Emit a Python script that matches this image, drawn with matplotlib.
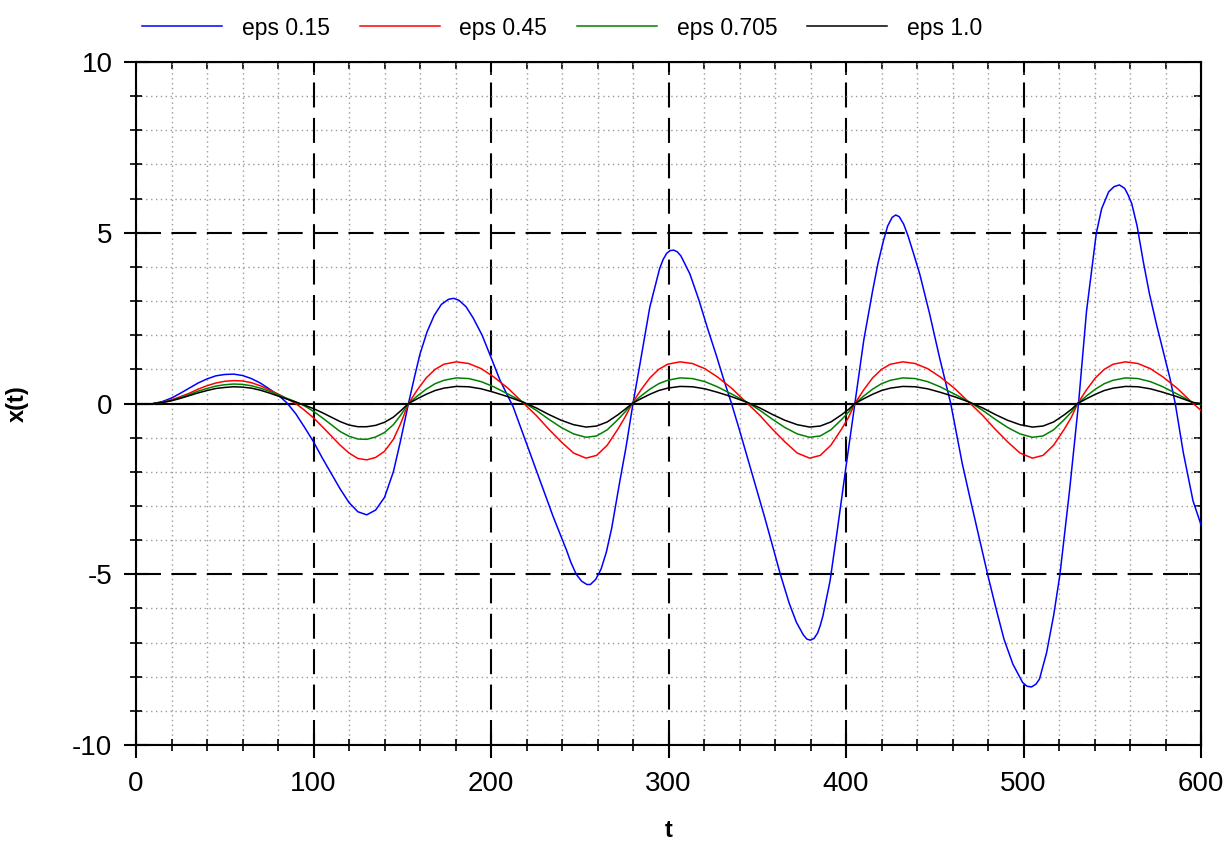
import matplotlib
matplotlib.use("Agg")
import matplotlib.pyplot as plt
from matplotlib.ticker import MultipleLocator

plt.rcParams['font.family'] = ['Liberation Sans', 'DejaVu Sans']
plt.rcParams['axes.unicode_minus'] = False

# ---- data ----
# common time axis for the three small curves
t_small = [10, 15, 20, 25, 30, 35, 40, 45, 50, 55, 60, 65, 70, 75, 80, 85, 90, 95,
           100, 105, 110, 115, 120, 125, 130, 135, 140, 145, 149, 153.5,
           158.5, 163.5, 168.5, 173.5, 180.5, 187.5, 194.5, 201.5, 209.5, 218.5,
           225.5, 232.5, 239.5, 246.5, 253.5, 259.5, 265.5, 271.5, 275.5, 279.5,
           284.5, 289.5, 294.5, 299.5, 306.5, 313.5, 320.5, 327.5, 335.5, 344.5,
           351.5, 358.5, 365.5, 372.5, 379.5, 385.5, 391.5, 397.5, 401.5, 405,
           410, 415, 420, 425, 432, 439, 446, 453, 461, 470,
           477, 484, 491, 498, 505, 511, 517, 523, 527, 530.5,
           535.5, 540.5, 545.5, 550.5, 557.5, 564.5, 571.5, 578.5, 586.5, 595.5, 600]

x_eps045 = [0, 0.04, 0.11, 0.20, 0.30, 0.42, 0.52, 0.60, 0.65, 0.67, 0.66, 0.61, 0.52, 0.40, 0.28, 0.14, 0.0, -0.20,
            -0.42, -0.68, -0.95, -1.22, -1.45, -1.61, -1.65, -1.58, -1.40, -1.05, -0.60, 0.0,
            0.40, 0.75, 1.00, 1.15, 1.22, 1.17, 1.02, 0.78, 0.45, 0.0,
            -0.35, -0.75, -1.12, -1.45, -1.60, -1.52, -1.22, -0.75, -0.40, 0.0,
            0.40, 0.75, 1.00, 1.15, 1.22, 1.17, 1.02, 0.78, 0.45, 0.0,
            -0.35, -0.75, -1.12, -1.45, -1.60, -1.52, -1.22, -0.75, -0.40, 0.0,
            0.40, 0.75, 1.00, 1.15, 1.22, 1.17, 1.02, 0.78, 0.45, 0.0,
            -0.35, -0.75, -1.12, -1.45, -1.60, -1.52, -1.22, -0.75, -0.40, 0.0,
            0.40, 0.75, 1.00, 1.15, 1.22, 1.17, 1.02, 0.78, 0.45, 0.0, -0.20]

x_eps0705 = [0, 0.03, 0.09, 0.17, 0.26, 0.36, 0.44, 0.51, 0.55, 0.57, 0.56, 0.52, 0.45, 0.36, 0.26, 0.15, 0.05, -0.07,
             -0.23, -0.42, -0.62, -0.82, -0.96, -1.04, -1.05, -0.98, -0.85, -0.62, -0.35, 0.0,
             0.22, 0.42, 0.58, 0.68, 0.75, 0.73, 0.64, 0.49, 0.28, 0.03,
             -0.20, -0.46, -0.70, -0.89, -0.99, -0.95, -0.77, -0.47, -0.25, 0.0,
             0.22, 0.42, 0.58, 0.68, 0.75, 0.73, 0.64, 0.49, 0.28, 0.03,
             -0.20, -0.46, -0.70, -0.89, -0.99, -0.95, -0.77, -0.47, -0.25, 0.0,
             0.22, 0.42, 0.58, 0.68, 0.75, 0.73, 0.64, 0.49, 0.28, 0.03,
             -0.20, -0.46, -0.70, -0.89, -0.99, -0.95, -0.77, -0.47, -0.25, 0.0,
             0.22, 0.42, 0.58, 0.68, 0.75, 0.73, 0.64, 0.49, 0.28, 0.03, -0.02]

x_eps10 = [0, 0.03, 0.08, 0.15, 0.23, 0.31, 0.38, 0.44, 0.47, 0.49, 0.48, 0.45, 0.39, 0.31, 0.22, 0.13, 0.04, -0.05,
           -0.15, -0.27, -0.40, -0.53, -0.63, -0.68, -0.68, -0.64, -0.55, -0.40, -0.22, 0.0,
           0.14, 0.27, 0.38, 0.45, 0.50, 0.49, 0.43, 0.33, 0.20, 0.03,
           -0.13, -0.32, -0.49, -0.62, -0.69, -0.66, -0.54, -0.33, -0.17, 0.0,
           0.14, 0.27, 0.38, 0.45, 0.50, 0.49, 0.43, 0.33, 0.20, 0.03,
           -0.13, -0.32, -0.49, -0.62, -0.69, -0.66, -0.54, -0.33, -0.17, 0.0,
           0.14, 0.27, 0.38, 0.45, 0.50, 0.49, 0.43, 0.33, 0.20, 0.03,
           -0.13, -0.32, -0.49, -0.62, -0.69, -0.66, -0.54, -0.33, -0.17, 0.0,
           0.14, 0.27, 0.38, 0.45, 0.50, 0.49, 0.43, 0.33, 0.20, 0.03, 0.0]

t_blue = [10, 15, 20, 25, 30, 35, 40, 45, 50, 55, 60, 65, 70, 75, 80, 85, 90, 95,
          100, 105, 110, 115, 120, 125, 130, 135, 140, 145, 149, 153.5,
          157, 160, 164, 168, 172, 176, 179, 182, 186, 190, 195, 200, 205, 212.5,
          220, 227.5, 235, 242.5, 245, 248, 251, 254, 256, 259, 262, 265, 268, 272.5, 276, 280,
          284, 289.5, 295, 297, 299, 301, 303, 305, 307, 312, 317, 322, 327, 331, 335.5,
          340, 344, 349, 354, 358, 363, 368, 372, 376, 378, 380, 382, 384, 385.5, 387, 391, 395, 400, 405,
          410, 415, 418, 421, 423.5, 426, 428, 430, 432.5, 435, 438, 441.5, 447, 452.5, 459,
          465.5, 470, 475, 480, 484.5, 489, 494, 499.5, 502, 504.5, 507, 509, 513, 517, 520.5, 526, 531,
          535.5, 541, 544, 548, 551, 554, 557, 559, 561, 564, 567.5, 571, 575, 582.5, 585.5, 590, 595.5, 600]

x_eps015 = [0, 0.06, 0.16, 0.30, 0.45, 0.60, 0.72, 0.81, 0.85, 0.86, 0.82, 0.73, 0.60, 0.43, 0.25, 0.02, -0.30, -0.70,
            -1.12, -1.60, -2.05, -2.50, -2.90, -3.17, -3.26, -3.12, -2.75, -2.00, -1.10, 0.0,
            0.80, 1.45, 2.10, 2.58, 2.90, 3.05, 3.08, 3.02, 2.83, 2.50, 2.00, 1.35, 0.69, -0.10,
            -1.17, -2.24, -3.31, -4.29, -4.65, -5.00, -5.20, -5.30, -5.30, -5.15, -4.85, -4.35, -3.65, -2.30, -1.30, 0.0,
            1.18, 2.83, 3.95, 4.22, 4.40, 4.48, 4.49, 4.44, 4.32, 3.80, 3.05, 2.20, 1.40, 0.72, 0.0,
            -0.78, -1.50, -2.40, -3.30, -4.05, -5.00, -5.85, -6.40, -6.78, -6.90, -6.93, -6.88, -6.72, -6.50, -6.22, -5.20, -3.75, -1.85, 0.0,
            1.85, 3.30, 4.10, 4.75, 5.20, 5.45, 5.52, 5.47, 5.25, 4.90, 4.40, 3.80, 2.65, 1.39, 0.0,
            -1.76, -2.80, -3.93, -5.05, -6.00, -6.90, -7.63, -8.17, -8.28, -8.30, -8.22, -8.07, -7.30, -6.20, -5.02, -2.52, 0.0,
            2.70, 4.98, 5.70, 6.20, 6.35, 6.40, 6.30, 6.10, 5.85, 5.20, 4.15, 3.20, 2.30, 0.74, 0.0, -1.43, -2.85, -3.55]

labels = ['eps 0.15', 'eps 0.45', 'eps 0.705', 'eps 1.0']
colors = ['#0000ff', '#ff0000', '#008000', '#000000']

# ---- figure ----
fig = plt.figure(figsize=(12.29, 8.43), dpi=100)
ax = fig.add_axes([136/1229, 1-745/843, (1201-136)/1229, (745-62)/843])

ax.set_xlim(0, 600)
ax.set_ylim(-10, 10)
ax.xaxis.set_major_locator(MultipleLocator(100))
ax.xaxis.set_minor_locator(MultipleLocator(20))
ax.yaxis.set_major_locator(MultipleLocator(5))
ax.yaxis.set_minor_locator(MultipleLocator(1))

ax.grid(which='minor', color='#9a9a9a', linestyle=(0, (1, 2.5)), linewidth=1.0, zorder=0)
ax.grid(which='major', color='black', linestyle=(0, (12, 5)), linewidth=1.5, zorder=0)
ax.axhline(0, color='black', linewidth=1.5, zorder=1)

ax.plot(t_blue, x_eps015, color=colors[0], lw=1.1, label=labels[0], zorder=3)
ax.plot(t_small, x_eps045, color=colors[1], lw=1.1, label=labels[1], zorder=3)
ax.plot(t_small, x_eps0705, color=colors[2], lw=1.1, label=labels[2], zorder=3)
ax.plot(t_small, x_eps10, color=colors[3], lw=1.1, label=labels[3], zorder=3)

for s in ax.spines.values():
    s.set_linewidth(1.5)
ax.tick_params(which='major', direction='inout', length=18, width=1.5, labelsize=20, pad=8)
ax.tick_params(which='minor', direction='inout', length=9, width=1.2)
ax.tick_params(axis='x', which='major', pad=10)

# ticks on top / right, pointing inwards, no labels
top = ax.secondary_xaxis('top')
top.xaxis.set_major_locator(MultipleLocator(100))
top.xaxis.set_minor_locator(MultipleLocator(20))
top.tick_params(which='both', direction='in', labeltop=False, width=1.2)
top.tick_params(which='major', length=9)
top.tick_params(which='minor', length=5)

right = ax.secondary_yaxis('right')
right.yaxis.set_major_locator(MultipleLocator(5))
right.yaxis.set_minor_locator(MultipleLocator(1))
right.tick_params(which='both', direction='in', labelright=False, width=1.2)
right.tick_params(which='major', length=9)
right.tick_params(which='minor', length=5)

ax.set_xlabel('t', fontsize=17, fontweight='bold')
ax.set_ylabel('x(t)', fontsize=17, fontweight='bold')
ax.xaxis.set_label_coords(0.5, -0.108)
ax.yaxis.set_label_coords(-0.101, 0.5)

fig.legend(loc='center', bbox_to_anchor=(562/1229, 1-28/843), ncol=4, frameon=False,
           fontsize=16.5, handlelength=3.5, handletextpad=0.85, columnspacing=1.3)

fig.savefig('out.png', dpi=100)
